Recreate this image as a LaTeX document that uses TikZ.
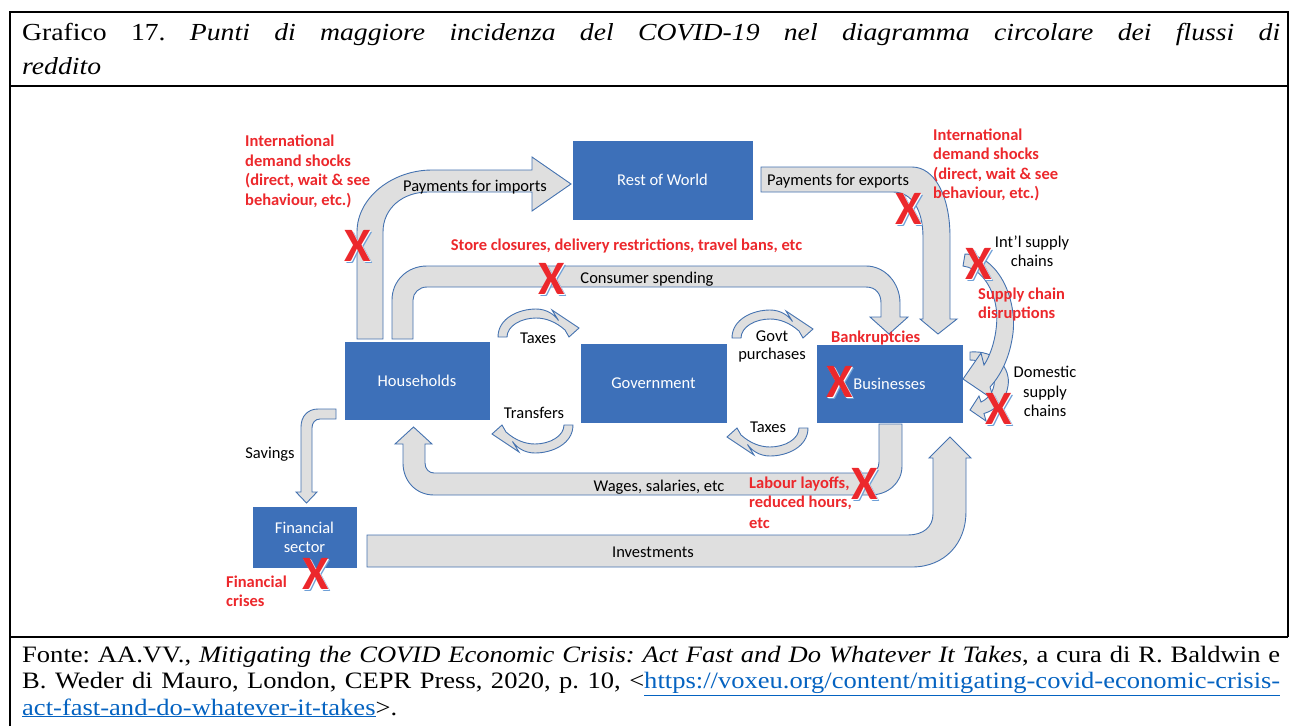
\documentclass[tikz,border=0pt]{standalone}
\usepackage{fontspec}
\setmainfont{Liberation Serif}[FakeStretch=1.13]
\newfontfamily\calibri{Carlito}
\usepackage{xcolor}
\definecolor{boxblue}{RGB}{61,112,185}
\definecolor{flowfill}{RGB}{223,223,223}
\definecolor{flowline}{RGB}{68,114,176}
\definecolor{alertred}{RGB}{236,40,44}
\definecolor{xshadow}{RGB}{110,160,215}
\definecolor{linkblue}{RGB}{5,99,193}
\frenchspacing
\begin{document}
\begin{tikzpicture}[x=1pt,y=-1pt,
  sector/.style={fill=boxblue, draw=boxblue, line width=0.6pt, text=white, align=center,
    font=\calibri\fontsize{16.5}{19}\selectfont, inner sep=0},
  flow/.style={fill=flowfill, draw=flowline, line width=0.9pt, line join=miter},
  lbl/.style={font=\calibri\fontsize{16.5}{19}\selectfont, inner sep=0, anchor=base},
  rlbl/.style={font=\calibri\bfseries\fontsize{16.5}{19}\selectfont, text=alertred, inner sep=0, anchor=base west},
  xglyph/.style={font=\calibri\bfseries\fontsize{48}{48}\selectfont, inner sep=0},
  frameline/.style={line width=2pt},
  cyc/.pic={\draw[flow] (0,0) .. controls (0,19) and (-21,28) .. (-38,28)
      .. controls (-48,28) and (-56,23) .. (-60.5,16.5) -- (-54,27) -- (-81,9) -- (-71,0) -- (-67,7)
      .. controls (-58,15) and (-48,19) .. (-38,19) .. controls (-23,19) and (-9,11) .. (-9,0) -- cycle;},
  bigx/.pic={\node[xglyph, text=xshadow] (-s) at (2,1.6) {X};
      \node[xglyph, text=white] (-w) at (0.9,0.7) {X};
      \node[xglyph, text=alertred] (-r) at (0,0) {X};}
]
\useasboundingbox (0,0) rectangle (1291,726);

% frame
\draw[frameline] (10,726) -- (10,12) -- (1288,12) -- (1288,637);
\draw[frameline] (10,86) -- (1288,86);
\draw[frameline] (10,637) -- (1288,637);

% title and source
\node[inner sep=0, anchor=base west] (title) at (22,40.5) {\parbox[t]{1258pt}{\frenchspacing\fontsize{24.5}{33.5}\selectfont Grafico 17. \textit{Punti di maggiore incidenza del COVID-19 nel diagramma circolare dei flussi di}\linebreak \textit{reddito}}};
\node[inner sep=0, anchor=base west] (src) at (22,662) {\parbox[t]{1258pt}{\frenchspacing\fontsize{23.5}{26.5}\selectfont Fonte: AA.VV., \textit{Mitigating the COVID Economic Crisis: Act Fast and Do Whatever It Takes}, a cura di R. Baldwin e\linebreak B. Weder di Mauro, London, CEPR Press, 2020, p. 10, <\textcolor{linkblue}{\underline{https://voxeu.org/content/mitigating-covid-economic-crisis-}}\linebreak \textcolor{linkblue}{\underline{act-fast-and-do-whatever-it-takes}}>.}};

% flows
\draw[flow] (357,339) -- (357,232) .. controls (357,197) and (393,170) .. (432,170) -- (532,170) -- (532,157) -- (571,184) -- (532,211) -- (532,192) -- (428,192) .. controls (403,192) and (383,208) .. (383,232) -- (383,339) -- cycle;
\draw[flow] (392,339) -- (392,300) .. controls (392,281) and (407,266) .. (427,266) -- (866,266) .. controls (885,266) and (900,283) .. (900,303) -- (900,317) -- (908,317) -- (889,334) -- (870,317) -- (881,317) -- (881,303) .. controls (881,294) and (876,287) .. (866,287) -- (427,287) .. controls (419,287) and (413,293) .. (413,300) -- (413,339) -- cycle;
\draw[flow] (761,167) -- (912,167) .. controls (934,167) and (950,195) .. (950,237) -- (950,319) -- (957,319) -- (938,334) -- (920,319) -- (923,319) -- (923,237) .. controls (923,210) and (912,192) .. (893,192) -- (761,192) -- cycle;
\draw[flow] (970,352) .. controls (996,350) and (1011,368) .. (1008,386) .. controls (1006,400) and (996,410) .. (984,413.5) -- (986,421) -- (970,410) -- (979,396) -- (981,402) .. controls (990,398) and (996,388) .. (994,377) .. controls (991,366) and (982,360) .. (970,360) -- cycle;
\draw[flow] (965,254) .. controls (998,255) and (1017,298) .. (1013,333) .. controls (1010,357) and (1001,375) .. (990,387) -- (994,400) -- (963,379) -- (981,353) -- (984,365) .. controls (994,350) and (1000,322) .. (995,302) .. controls (990,282) and (978,268) .. (963,266) -- cycle;
\draw[flow] (336,409) -- (318,409) .. controls (308,409) and (301,416) .. (301,427) -- (301,492) -- (296,492) -- (306.5,503) -- (317,492) -- (312,492) -- (312,428) .. controls (312,423) and (315,419) .. (320,419) -- (336,419) -- cycle;
\draw[flow] (879,424) -- (879,462) .. controls (879,468) and (876,473) .. (869,473) -- (434,473) .. controls (429,473) and (425,469) .. (425,463) -- (425,444) -- (432,444) -- (413.5,427) -- (395,444) -- (403,444) -- (403,463) .. controls (403,481) and (416,495) .. (434,495) -- (870,495) .. controls (888,495) and (902,483) .. (902,466) -- (902,424) -- cycle;
\draw[flow] (367,535) -- (908,535) .. controls (923,535) and (933,527) .. (933,514) -- (933,458) -- (929,458) -- (950,437) -- (971,458) -- (966,458) -- (966,512) .. controls (966,543) and (945,567) .. (912,567) -- (367,567) -- cycle;
\pic (transfers) at (573,425) {cyc};
\pic (taxesbr) at (808,428) {cyc};
\pic[rotate=180] (taxestl) at (498,337) {cyc};
\pic[rotate=180] (govtp) at (732,338) {cyc};

% sectors
\node[sector, minimum width=179pt, minimum height=78pt] (row) at (662.5,180) {Rest of World};
\node[sector, minimum width=144pt, minimum height=77pt] (hh) at (417,380.5) {Households};
\node[sector, minimum width=145pt, minimum height=78pt] (gov) at (653.5,383) {Government};
\node[sector, minimum width=145pt, minimum height=77pt] (bus) at (889.5,383.5) {Businesses};
\node[sector, minimum width=103pt, minimum height=60pt] (fin) at (304.5,537) {Financial\\sector};

% flow labels
\node[lbl] (timp) at (475,191) {Payments for imports};
\node[lbl, anchor=base west] (texp) at (767,185) {Payments for exports};
\node[lbl] (tcons) at (647,283) {Consumer spending};
\node[lbl] (ttaxa) at (538,343) {Taxes};
\node[lbl] (ttrans) at (534,418) {Transfers};
\node[lbl] (tgova) at (772,341) {Govt};
\node[lbl] (tgovb) at (772,359.5) {purchases};
\node[lbl] (ttaxb) at (768,432) {Taxes};
\node[lbl] (tinta) at (1032,247) {Int’l supply};
\node[lbl] (tintb) at (1032,266) {chains};
\node[lbl] (tdoma) at (1045,377) {Domestic};
\node[lbl] (tdomb) at (1045,397) {supply};
\node[lbl] (tdomc) at (1045,416) {chains};
\node[lbl] (tsav) at (270,458) {Savings};
\node[lbl] (twage) at (659,491) {Wages, salaries, etc};
\node[lbl] (tinv) at (653,557) {Investments};

% shock labels
\node[rlbl] (ra1) at (245,146.5) {International};
\node[rlbl] (ra2) at (245,166) {demand shocks};
\node[rlbl] (ra3) at (245,185.5) {(direct, wait \& see};
\node[rlbl] (ra4) at (245,205) {behaviour, etc.)};
\node[rlbl] (rb1) at (933,140) {International};
\node[rlbl] (rb2) at (933,159.5) {demand shocks};
\node[rlbl] (rb3) at (933,179) {(direct, wait \& see};
\node[rlbl] (rb4) at (933,198.5) {behaviour, etc.)};
\node[rlbl, anchor=base] (rstore) at (626.5,250) {Store closures, delivery restrictions, travel bans, etc};
\node[rlbl] (rsup1) at (978,299.5) {Supply chain};
\node[rlbl] (rsup2) at (978,318.5) {disruptions};
\node[rlbl] (rbank) at (831,342) {Bankruptcies};
\node[rlbl] (rlab1) at (749,488) {Labour layoffs,};
\node[rlbl] (rlab2) at (749,507.5) {reduced hours,};
\node[rlbl] (rlab3) at (749,528) {etc};
\node[rlbl] (rfin1) at (226,587) {Financial};
\node[rlbl] (rfin2) at (226,606) {crises};

% crosses
\pic (xa) at (358,246) {bigx};
\pic (xb) at (552,279) {bigx};
\pic (xc) at (909,209) {bigx};
\pic (xd) at (979,264) {bigx};
\pic (xe) at (840,382) {bigx};
\pic (xf) at (999,409) {bigx};
\pic (xg) at (865,484) {bigx};
\pic (xh) at (316,574) {bigx};
\end{tikzpicture}
\end{document}
